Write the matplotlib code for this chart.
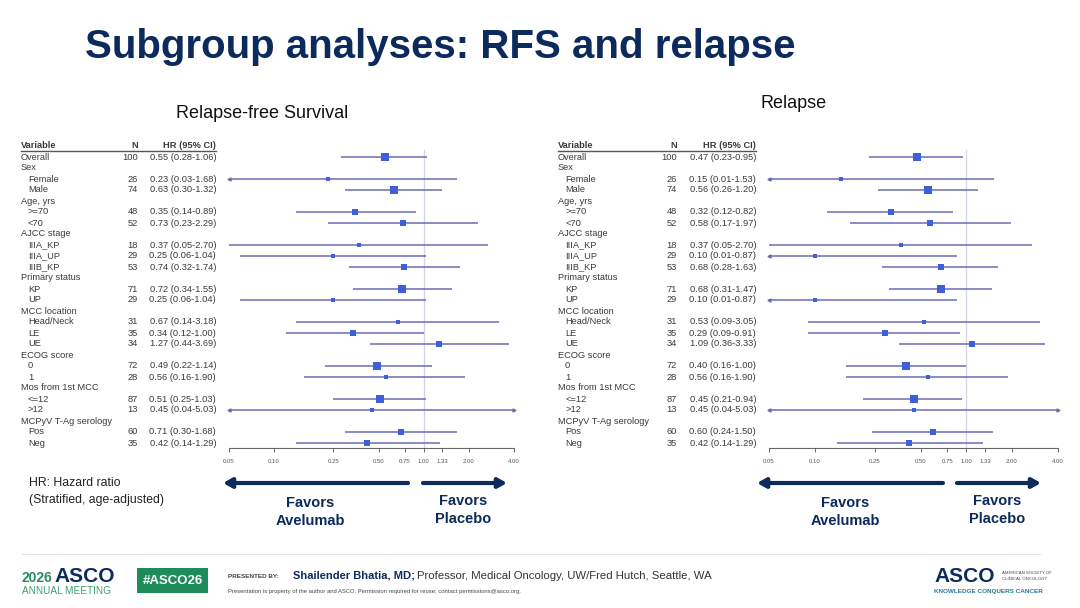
import numpy as np
import matplotlib
matplotlib.use("Agg")
import matplotlib.pyplot as plt

plt.rcParams['font.family'] = ['Liberation Sans', 'DejaVu Sans']

# ---------------- data ----------------
labels = ["Overall", "Sex", "Female", "Male", "Age, yrs", ">=70", "<70",
          "AJCC stage", "IIIA_KP", "IIIA_UP", "IIIB_KP", "Primary status", "KP", "UP",
          "MCC location", "Head/Neck", "LE", "UE", "ECOG score", "0", "1",
          "Mos from 1st MCC", "<=12", ">12", "MCPyV T-Ag serology", "Pos", "Neg"]
is_group = [False, True, False, False, True, False, False,
            True, False, False, False, True, False, False,
            True, False, False, False, True, False, False,
            True, False, False, True, False, False]
n_vals = [100, None, 26, 74, None, 48, 52, None, 18, 29, 53, None, 71, 29,
          None, 31, 35, 34, None, 72, 28, None, 87, 13, None, 60, 35]

rfs_hr = [0.55, None, 0.23, 0.63, None, 0.35, 0.73, None, 0.37, 0.25, 0.74, None, 0.72, 0.25,
          None, 0.67, 0.34, 1.27, None, 0.49, 0.56, None, 0.51, 0.45, None, 0.71, 0.42]
rfs_lo = [0.28, None, 0.03, 0.30, None, 0.14, 0.23, None, 0.05, 0.06, 0.32, None, 0.34, 0.06,
          None, 0.14, 0.12, 0.44, None, 0.22, 0.16, None, 0.25, 0.04, None, 0.30, 0.14]
rfs_hi = [1.06, None, 1.68, 1.32, None, 0.89, 2.29, None, 2.70, 1.04, 1.74, None, 1.55, 1.04,
          None, 3.18, 1.00, 3.69, None, 1.14, 1.90, None, 1.03, 5.03, None, 1.68, 1.29]

rel_hr = [0.47, None, 0.15, 0.56, None, 0.32, 0.58, None, 0.37, 0.10, 0.68, None, 0.68, 0.10,
          None, 0.53, 0.29, 1.09, None, 0.40, 0.56, None, 0.45, 0.45, None, 0.60, 0.42]
rel_lo = [0.23, None, 0.01, 0.26, None, 0.12, 0.17, None, 0.05, 0.01, 0.28, None, 0.31, 0.01,
          None, 0.09, 0.09, 0.36, None, 0.16, 0.16, None, 0.21, 0.04, None, 0.24, 0.14]
rel_hi = [0.95, None, 1.53, 1.20, None, 0.82, 1.97, None, 2.70, 0.87, 1.63, None, 1.47, 0.87,
          None, 3.05, 0.91, 3.33, None, 1.00, 1.90, None, 0.94, 5.03, None, 1.50, 1.29]

xticks = [0.05, 0.10, 0.25, 0.50, 0.75, 1.00, 1.33, 2.00, 4.00]
xtick_labels = ["0.05", "0.10", "0.25", "0.50", "0.75", "1.00", "1.33", "2.00", "4.00"]
XMIN, XMAX = 0.05, 4.00

# ---------------- style ----------------
NAVY = "#0c2a5c"
TXT = "#3a3a3a"
CI_COL = "#6b6db3"
SQ_COL = "#3d5fd9"
W, H = 1080, 608

fig = plt.figure(figsize=(W / 100, H / 100), dpi=100)
bg = fig.add_axes([0, 0, 1, 1])
bg.set_xlim(0, W)
bg.set_ylim(H, 0)
bg.axis("off")

ROW0, ROWH = 146.0, 11.0
AX_TOP, AX_BOT = 140.0, 448.0
FS = 6.7


def row_y(i):
    return ROW0 + ROWH * i


def panel(x_var, x_ind, x_n, x_hr, ax_left, ax_right, hr, lo, hi):
    # header
    bg.text(x_var, row_y(0), "Variable", fontsize=FS, fontweight="bold", color=TXT,
            ha="left", va="center")
    bg.text(x_n, row_y(0), "N", fontsize=FS, fontweight="bold", color=TXT,
            ha="right", va="center")
    bg.text(x_hr, row_y(0), "HR (95% CI)", fontsize=FS, fontweight="bold", color=TXT,
            ha="right", va="center")
    bg.plot([x_var, x_hr], [row_y(0) + 4.5, row_y(0) + 4.5], color="#555555", lw=1.0)
    for k, lab in enumerate(labels):
        y = row_y(k + 1)
        x = x_var if (is_group[k] or k == 0) else x_ind
        bg.text(x, y, lab, fontsize=FS, color=TXT, ha="left", va="center")
        if n_vals[k] is not None:
            bg.text(x_n, y, str(n_vals[k]), fontsize=FS, color=TXT, ha="right", va="center")
            bg.text(x_hr, y, f"{hr[k]:.2f} ({lo[k]:.2f}-{hi[k]:.2f})", fontsize=FS,
                    color=TXT, ha="right", va="center")

    ax = fig.add_axes([ax_left / W, 1 - AX_BOT / H, (ax_right - ax_left) / W,
                       (AX_BOT - AX_TOP) / H])
    ax.set_xscale("log")
    ax.set_xlim(XMIN, XMAX)
    ax.set_ylim((AX_BOT - ROW0) / ROWH, (AX_TOP - ROW0) / ROWH)
    ax.patch.set_alpha(0)
    for s in ["top", "right", "left"]:
        ax.spines[s].set_visible(False)
    ax.spines["bottom"].set_color("#666666")
    ax.spines["bottom"].set_linewidth(0.8)
    ax.set_yticks([])
    ax.set_xticks(xticks)
    ax.set_xticklabels(xtick_labels)
    ax.minorticks_off()
    ax.tick_params(axis="x", labelsize=4.3, colors="#555555", length=3, width=0.6, pad=5)
    ax.axvline(1.0, ymin=0, ymax=(AX_BOT - row_y(0) - 4) / (AX_BOT - AX_TOP),
               color="#d4d4e6", lw=0.9, zorder=1)
    for k in range(len(labels)):
        if hr[k] is None:
            continue
        r = k + 1
        l = max(lo[k], XMIN)
        h = min(hi[k], XMAX)
        ax.plot([l, h], [r, r], color=CI_COL, lw=1.1, zorder=2, solid_capstyle="butt")
        if lo[k] < XMIN:
            ax.plot([XMIN], [r], marker="<", ms=2.2, color=CI_COL, zorder=3, clip_on=False)
        if hi[k] > XMAX:
            ax.plot([XMAX], [r], marker=">", ms=2.2, color=CI_COL, zorder=3, clip_on=False)
        ax.plot([hr[k]], [r], marker="s", ms=0.62 * np.sqrt(n_vals[k]), color=SQ_COL,
                markeredgewidth=0, zorder=4)
    return ax


panel(21, 28, 138, 216, 228.5, 514.0, rfs_hr, rfs_lo, rfs_hi)
panel(558, 565, 677, 756, 769.0, 1057.5, rel_hr, rel_lo, rel_hi)

# ---------------- titles ----------------
bg.text(85, 47, "Subgroup analyses: RFS and relapse", fontsize=29, fontweight="bold",
        color=NAVY, ha="left", va="center")
bg.text(176, 113, "Relapse-free Survival", fontsize=13, color="#111111", ha="left", va="center")
bg.text(761, 103, "Relapse", fontsize=13, color="#111111", ha="left", va="center")

# ---------------- HR note & arrows ----------------
bg.text(29, 483, "HR: Hazard ratio", fontsize=8.8, color="#222222", ha="left", va="center")
bg.text(29, 500, "(Stratified, age-adjusted)", fontsize=8.8, color="#222222",
        ha="left", va="center")

ARROW = "-|>,head_length=0.5,head_width=0.28"


def arrows(xl0, xl1, xr0, xr1, xa, xp):
    y = 483
    bg.annotate("", xy=(xl0, y), xytext=(xl1, y),
                arrowprops=dict(arrowstyle=ARROW, color=NAVY, lw=3.0, shrinkA=0, shrinkB=0))
    bg.annotate("", xy=(xr1, y), xytext=(xr0, y),
                arrowprops=dict(arrowstyle=ARROW, color=NAVY, lw=3.0, shrinkA=0, shrinkB=0))
    bg.text(xa, 512, "Favors\nAvelumab", fontsize=10.5, fontweight="bold", color=NAVY,
            ha="center", va="center", linespacing=1.35)
    bg.text(xp, 510, "Favors\nPlacebo", fontsize=10.5, fontweight="bold", color=NAVY,
            ha="center", va="center", linespacing=1.35)


arrows(223, 408, 423, 507, 310, 463)
arrows(757, 943, 957, 1041, 845, 997)

# ---------------- footer ----------------
bg.plot([22, 1040], [554, 554], color="#e2e2e2", lw=0.8)
bg.text(22, 578, "2026", fontsize=10, fontweight="bold", color="#2a8a5e", ha="left", va="center")
bg.text(54, 577, "ASCO", fontsize=15, fontweight="bold", color=NAVY, ha="left", va="center")
bg.text(22, 591, "ANNUAL MEETING", fontsize=7.2, color="#3aa070", ha="left", va="center")
bg.add_patch(plt.Rectangle((137, 568), 71, 25, facecolor="#1e8c5a", edgecolor="none"))
bg.text(172.5, 580.5, "#ASCO26", fontsize=9.5, fontweight="bold", color="white",
        ha="center", va="center")
bg.text(228, 576, "PRESENTED BY:", fontsize=4.6, fontweight="bold", color="#444444",
        ha="left", va="center")
bg.text(293, 576, "Shailender Bhatia, MD;", fontsize=8, fontweight="bold", color=NAVY,
        ha="left", va="center")
bg.text(417, 576, "Professor, Medical Oncology, UW/Fred Hutch, Seattle, WA", fontsize=8.2,
        color="#333333", ha="left", va="center")
bg.text(228, 591, "Presentation is property of the author and ASCO. Permission required for "
        "reuse; contact permissions@asco.org.", fontsize=4.2, color="#444444",
        ha="left", va="center")
bg.text(934, 577, "ASCO", fontsize=15, fontweight="bold", color=NAVY, ha="left", va="center")
bg.text(1002, 573, "AMERICAN SOCIETY OF", fontsize=3.1, color="#444444", ha="left", va="center")
bg.text(1002, 579, "CLINICAL ONCOLOGY", fontsize=3.1, color="#444444", ha="left", va="center")
bg.text(934, 591, "KNOWLEDGE CONQUERS CANCER", fontsize=4.6, fontweight="bold",
        color="#2a7a9a", ha="left", va="center")

fig.savefig("out.png", dpi=100)
